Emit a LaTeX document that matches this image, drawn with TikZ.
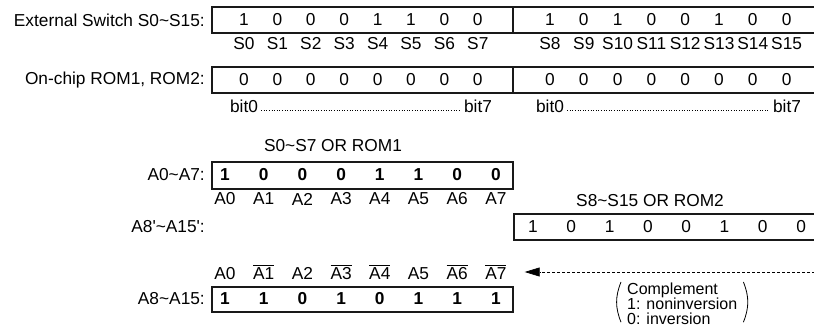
\documentclass[tikz,border=0pt]{standalone}
\usepackage{fontspec}
\setmainfont{Liberation Sans}
\usetikzlibrary{positioning}
\usetikzlibrary{arrows.meta}
\newcommand\ovl[1]{\ensuremath{\overline{\mbox{#1}}}}
\newcommand\tld{\textasciitilde}

\begin{document}
\begin{tikzpicture}[x=1pt,y=-1pt,
    every node/.style={font=\fontsize{17.3}{20}\selectfont, inner sep=0pt},
    regbox/.style={draw=black!90, line width=1.2pt},
    bbit/.style={font=\fontsize{17.3}{20}\selectfont\bfseries},
    rowlbl/.style={anchor=east},
    dotline/.style={dotted, line width=0.6pt},
    cmparrow/.style={-{Triangle[length=15pt,width=9pt]}, dash pattern=on 3pt off 2pt, line width=0.7pt, shorten >=18pt},
    paren/.style={line width=0.8pt}]
    \useasboundingbox (0,0) rectangle (814,334);

    % external switches
    \node[rowlbl] (swlbl) at (205,20) {External Switch S0\tld S15:};
    \draw[regbox] (212,7) rectangle (818,33);
    \draw[regbox] (513,7) -- (513,33);
    \foreach \v [count=\i from 0] in {1,0,0,0,1,1,0,0} {
        \node (sw\i) at ({244+\i*33.4},20) {\v};
        \node (sn\i) at ({244+\i*33.4},44) {S\i};
    }
    \foreach \v [count=\i from 8] in {1,0,1,0,0,1,0,0} {
        \node (sw\i) at ({550+(\i-8)*33.8},20) {\v};
        \node (sn\i) at ({550+(\i-8)*33.8},44) {S\i};
    }

    % on-chip rom
    \node[rowlbl] (romlbl) at (205,80) {On-chip ROM1, ROM2:};
    \draw[regbox] (212,67) rectangle (818,93);
    \draw[regbox] (513,67) -- (513,93);
    \foreach \i in {0,...,7} {
        \node (ra\i) at ({244+\i*33.4},80) {0};
        \node (rb\i) at ({550+\i*33.8},80) {0};
    }
    \node (abit0) at (244,106) {bit0};
    \node (abit7) at (478,106) {bit7};
    \node (bbit0) at (550,106) {bit0};
    \node (bbit7) at (787,106) {bit7};
    \draw[dotline] ([xshift=3pt,yshift=1.5pt]abit0.base east) -- ([xshift=-3pt,yshift=1.5pt]abit7.base west);
    \draw[dotline] ([xshift=3pt,yshift=1.5pt]bbit0.base east) -- ([xshift=-3pt,yshift=1.5pt]bbit7.base west);

    % A0~A7
    \node (orlo) at (333,146) {S0\tld S7 OR ROM1};
    \node[rowlbl] (alolbl) at (205,175) {A0\tld A7:};
    \draw[regbox] (212,162) rectangle (513,189);
    \foreach \v [count=\i from 0] in {1,0,0,0,1,1,0,0} {
        \node[bbit] (a\i) at ({225+\i*38.7},175) {\v};
        \node (an\i) at ({225+\i*38.7},199) {A\i};
    }

    % A8'~A15'
    \node (orhi) at (650,201) {S8\tld S15 OR ROM2};
    \node[rowlbl] (ahilbl) at (205,227) {A8\textquotesingle\tld A15\textquotesingle:};
    \draw[regbox] (514,214) rectangle (818,240);
    \foreach \v [count=\i from 0] in {1,0,1,0,0,1,0,0} {
        \node (h\i) at ({533+\i*38.3},227) {\v};
    }

    % A8~A15
    \node[rowlbl] (aoutlbl) at (205,299) {A8\tld A15:};
    \draw[regbox] (212,287) rectangle (513,312);
    \foreach \v/\t [count=\i from 0] in {1/A0,1/\ovl{A1},0/A2,1/\ovl{A3},0/\ovl{A4},1/A5,1/\ovl{A6},1/\ovl{A7}} {
        \node[bbit] (c\i) at ({225+\i*38.7},299) {\v};
        \node[anchor=base] (cn\i) at ({225+\i*38.7},279) {\t};
    }

    % complement
    \coordinate (src) at (815,272);
    \draw[cmparrow] (src) -- (cn7.east |- src);
    \node[anchor=north west, align=left, font=\fontsize{16}{15}\selectfont] (cmp) at (627,283) {Complement\\1: noninversion\\0: inversion};
    \draw[paren] ([xshift=-6pt,yshift=1pt]cmp.north west) to[bend right=22] ([xshift=-6pt,yshift=3pt]cmp.south west);
    \draw[paren] ([xshift=6pt,yshift=1pt]cmp.north east) to[bend left=22] ([xshift=6pt,yshift=3pt]cmp.south east);
\end{tikzpicture}
\end{document}
